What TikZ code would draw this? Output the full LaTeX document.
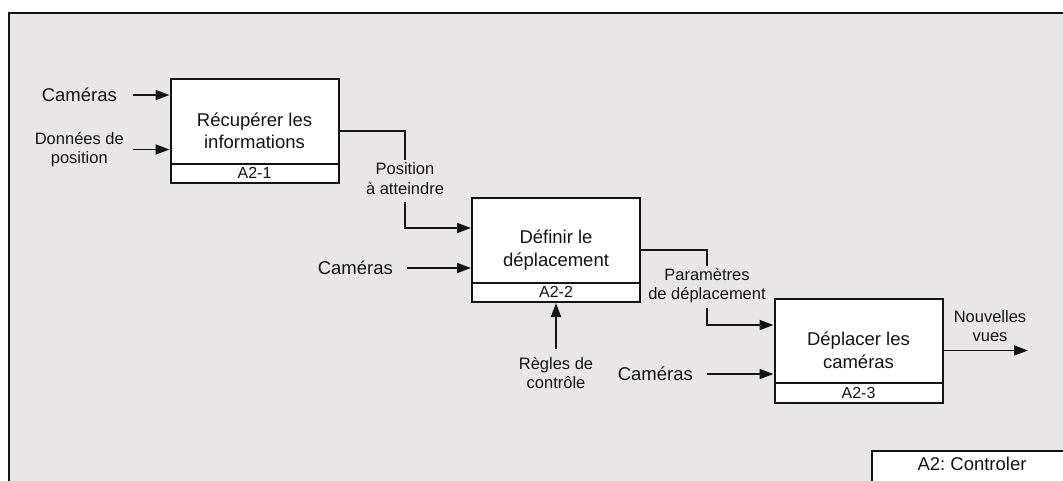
\documentclass[tikz,border=0pt]{standalone}
\usepackage{fontspec}
\setmainfont{Liberation Sans}
\usetikzlibrary{arrows.meta}
\definecolor{bg}{RGB}{232,230,230}
\definecolor{ink}{RGB}{20,20,20}
\frenchspacing
\begin{document}
\begin{tikzpicture}[x=1pt,y=-1pt,
 box/.style={draw=ink, fill=white, line width=2pt, minimum width=168pt, minimum height=104pt, inner sep=0pt, align=center, text=ink, font=\fontsize{18.5}{22.5}\selectfont},
 idbox/.style={draw=ink, fill=white, line width=2pt, minimum width=168pt, minimum height=19.5pt, inner sep=0pt, text=ink, font=\fontsize{16}{18}\selectfont},
 lbl/.style={inner sep=0pt, align=center, text=ink, font=\fontsize{16.5}{19.5}\selectfont},
 biglbl/.style={inner sep=0pt, text=ink, font=\fontsize{18.5}{22}\selectfont},
 flow/.style={draw=ink, line width=1.8pt},
 arr/.style={flow, -{Triangle[length=14pt,width=10pt]}}
]
\useasboundingbox (0,0) rectangle (1063,480);
\clip (0,0) rectangle (1063,480);
\fill[white] (0,0) rectangle (1063,480);
\draw[draw=ink, line width=2.2pt, fill=bg] (9,13) rectangle (1080,500);

% boxes
\node[box] (b1) at (254.5,131) {Récupérer les\\informations};
\node[idbox, anchor=south] (b1id) at (b1.south) {A2-1};
\node[box] (b2) at (556,250) {Définir le\\déplacement};
\node[idbox, anchor=south] (b2id) at (b2.south) {A2-2};
\node[box] (b3) at (858.5,350.5) {Déplacer les\\caméras};
\node[idbox, anchor=south] (b3id) at (b3.south) {A2-3};

% inputs of box 1
\node[biglbl, anchor=east] (c1) at (117,95) {Caméras};
\node[lbl, anchor=east] (d1) at (124,149.5) {Données de\\position};
\draw[arr] ([xshift=16pt]c1.east) -- (c1.east -| b1.west);
\draw[arr] ([xshift=9pt]d1.east) -- (d1.east -| b1.west);

% box 1 -> box 2
\node[lbl] (p1) at (405,178.5) {Position\\à atteindre};
\coordinate (p1t) at (405,160);
\coordinate (p1b) at (405,202);
\draw[flow] (b1.east) -| (p1t);
\draw[arr] (p1b) |- (b2.west |- 0,228);

% inputs of box 2
\node[biglbl, anchor=east] (c2) at (393,268) {Caméras};
\draw[arr] ([xshift=14pt]c2.east) -- (c2.east -| b2.west);
\node[lbl] (r2) at (556,373) {Règles de\\contrôle};
\coordinate (r2t) at (556,349);
\draw[arr] (r2t) -- (b2id.south);

% box 2 -> box 3
\node[lbl] (p2) at (707,285.5) {Paramètres\\de déplacement};
\coordinate (p2t) at (707,266);
\coordinate (p2b) at (707,308);
\draw[flow] (b2.east) -| (p2t);
\draw[arr] (p2b) |- (b3.west |- 0,325);

% inputs of box 3
\node[biglbl, anchor=east] (c3) at (693,374) {Caméras};
\draw[arr] ([xshift=14pt]c3.east) -- (c3.east -| b3.west);

% output of box 3
\node[lbl] (o3) at (990,326) {Nouvelles\\vues};
\coordinate (o3e) at (1028,350.5);
\draw[arr] (b3.east) -- (o3e);

% title box
\draw[draw=ink, line width=2pt, fill=white] (872,451) rectangle (1080,500);
\node[biglbl] (title) at (972,464) {A2: Controler};
\end{tikzpicture}
\end{document}
